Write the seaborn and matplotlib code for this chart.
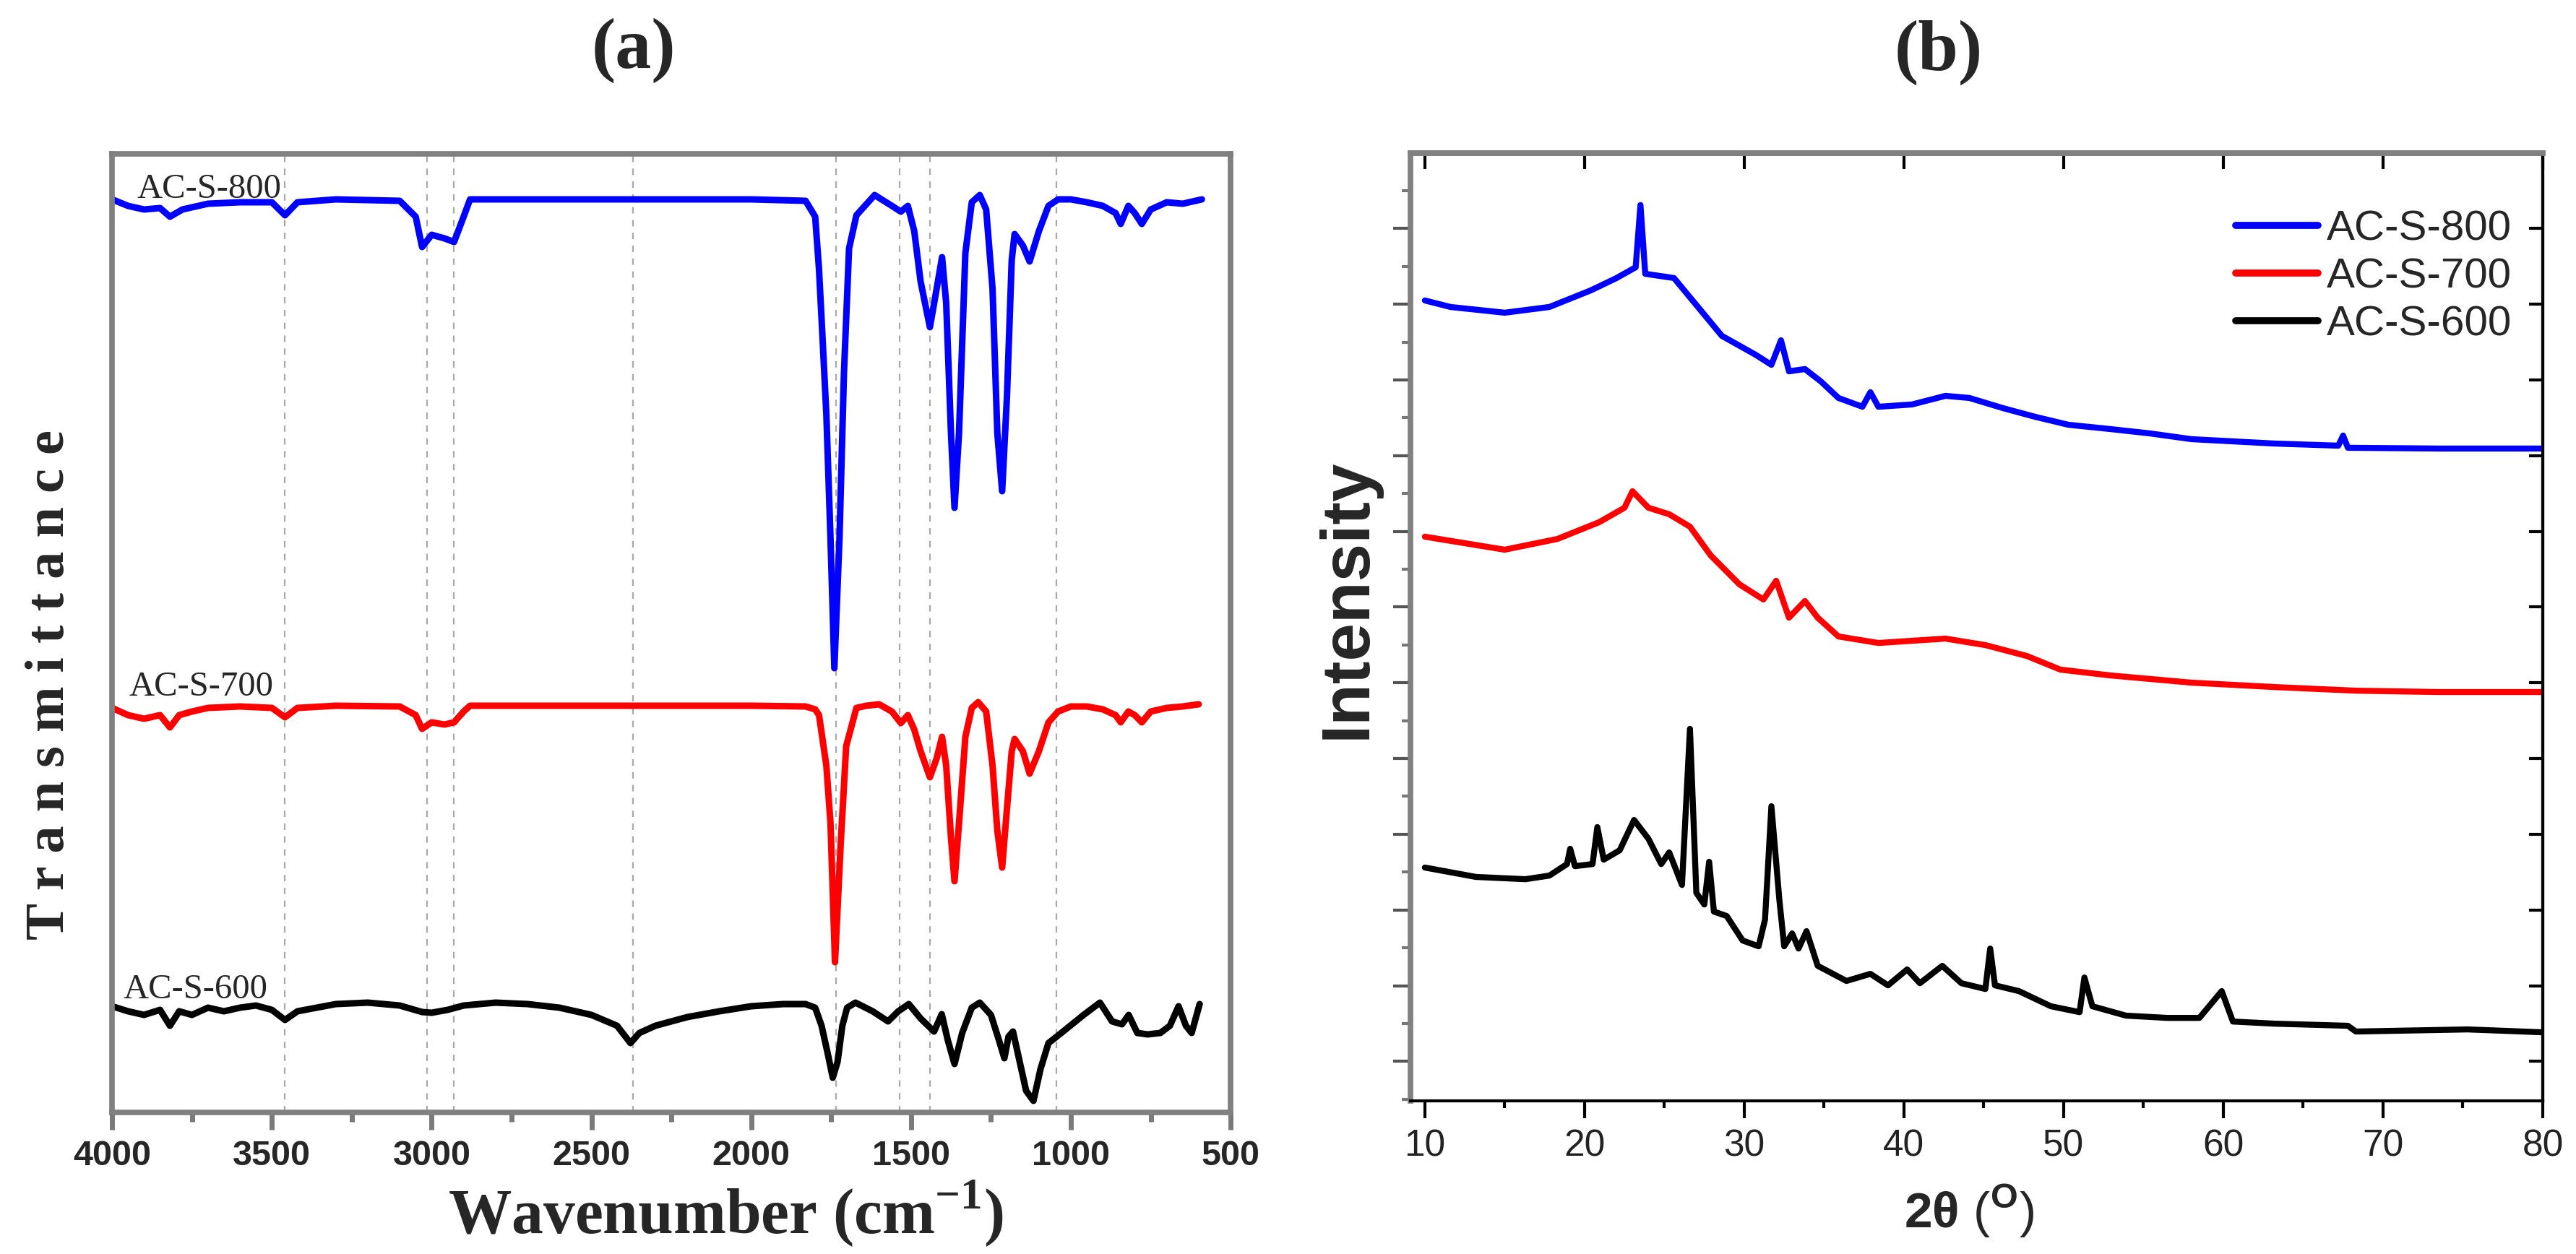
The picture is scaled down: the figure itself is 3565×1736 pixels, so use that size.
import matplotlib
matplotlib.use('Agg')
import matplotlib.pyplot as plt
from matplotlib import font_manager
from matplotlib.ticker import MultipleLocator
import seaborn as sns

# ---------------- (a) FTIR spectra, transmittance in a.u. ----------------
wn_800 = [4000, 3950, 3900, 3850, 3819, 3780, 3700, 3600, 3500, 3459,
          3420, 3300, 3100, 3050, 3030, 3000, 2960, 2930, 2900, 2880,
          2500, 2000, 1830, 1800, 1788, 1778, 1765, 1752, 1740, 1724,
          1710, 1694, 1671, 1614, 1560, 1532, 1510, 1490, 1470, 1441,
          1420, 1403, 1390, 1375, 1364, 1350, 1330, 1310, 1285, 1265,
          1245, 1230, 1215, 1200, 1185, 1176, 1150, 1129, 1100, 1070,
          1040, 1000, 950, 900, 860, 844, 820, 800, 778, 750,
          700, 650, 590]
tr_800 = [1261, 1252, 1247, 1249, 1237, 1247, 1255, 1257, 1257, 1239,
          1257, 1261, 1259, 1237, 1195, 1212, 1207, 1202, 1237, 1261,
          1261, 1261, 1259, 1237, 1164, 1078, 963, 791, 612, 791,
          1020, 1193, 1239, 1267, 1252, 1244, 1252, 1217, 1147, 1084,
          1137, 1181, 1117, 937, 834, 937, 1187, 1257, 1267, 1247,
          1137, 937, 857, 987, 1177, 1213, 1197, 1175, 1217, 1252,
          1261, 1261, 1257, 1252, 1242, 1227, 1252, 1242, 1227, 1247,
          1257, 1255, 1261]

wn_700 = [4000, 3950, 3900, 3850, 3819, 3790, 3750, 3700, 3600, 3500,
          3459, 3420, 3300, 3100, 3050, 3030, 3000, 2960, 2930, 2900,
          2880, 2500, 2000, 1830, 1800, 1788, 1765, 1752, 1738, 1720,
          1703, 1671, 1640, 1600, 1560, 1532, 1510, 1490, 1470, 1441,
          1420, 1403, 1390, 1375, 1364, 1350, 1330, 1310, 1290, 1265,
          1245, 1230, 1215, 1200, 1185, 1176, 1150, 1129, 1100, 1070,
          1040, 1000, 950, 900, 860, 844, 820, 800, 778, 750,
          700, 650, 600]
tr_700 = [557, 547, 542, 547, 530, 547, 552, 557, 559, 557,
          544, 557, 560, 559, 547, 528, 537, 534, 537, 552,
          560, 560, 560, 559, 555, 547, 477, 397, 205, 370,
          504, 557, 560, 562, 552, 536, 547, 527, 497, 461,
          487, 517, 477, 377, 317, 397, 517, 557, 565, 552,
          477, 387, 336, 417, 497, 514, 497, 466, 497, 537,
          552, 559, 559, 555, 547, 537, 552, 547, 537, 552,
          557, 559, 562]

wn_600 = [4000, 3950, 3900, 3850, 3819, 3790, 3750, 3700, 3650, 3600,
          3550, 3500, 3459, 3420, 3300, 3200, 3100, 3030, 3000, 2950,
          2900, 2800, 2700, 2600, 2500, 2420, 2378, 2350, 2300, 2200,
          2100, 2000, 1900, 1830, 1800, 1780, 1760, 1745, 1730, 1715,
          1700, 1674, 1620, 1572, 1540, 1507, 1470, 1428, 1404, 1385,
          1364, 1340, 1310, 1285, 1250, 1225, 1208, 1195, 1181, 1160,
          1140, 1117, 1095, 1070, 1030, 960, 909, 871, 840, 819,
          792, 760, 720, 690, 663, 640, 622, 597]
tr_600 = [144, 137, 132, 139, 117, 137, 132, 142, 137, 142,
          145, 139, 125, 137, 147, 149, 145, 136, 135, 139,
          145, 149, 147, 142, 132, 117, 93, 107, 117, 129,
          137, 144, 147, 147, 142, 117, 77, 45, 67, 117,
          142, 149, 137, 123, 137, 147, 127, 109, 133, 97,
          64, 107, 142, 149, 132, 97, 72, 102, 109, 67,
          27, 13, 57, 93, 107, 132, 149, 123, 119, 132,
          107, 105, 107, 117, 144, 117, 107, 147]

peak_lines = [3460, 3015, 2930, 2370, 1735, 1535, 1440, 1045]
ftir_ticks = [4000, 3500, 3000, 2500, 2000, 1500, 1000, 500]

# ---------------- (b) XRD patterns ----------------
tt_800 = [10, 11.6, 15, 17.8, 20.4, 22, 23.2, 23.5, 23.8, 25.6,
          27.1, 28.6, 30.7, 31.7, 32.3, 32.8, 33.8, 34.8, 35.9, 37.4,
          37.9, 38.4, 40.5, 42.6, 44.1, 46.2, 48.2, 50.3, 52.9, 55.4,
          58, 63.2, 67.2, 67.5, 67.8, 73.5, 80]
int_800 = [5525, 5482, 5444, 5482, 5592, 5673, 5744, 6155, 5701, 5673,
           5482, 5291, 5167, 5100, 5262, 5057, 5072, 4990, 4881, 4823,
           4919, 4823, 4838, 4895, 4881, 4814, 4757, 4704, 4676, 4647,
           4609, 4580, 4566, 4633, 4552, 4547, 4547]

tt_700 = [10, 15, 18.3, 20.9, 22.5, 23, 24, 25.3, 26.6, 27.9,
          29.7, 31.2, 32, 32.8, 33.8, 34.6, 35.9, 38.4, 42.6, 45.1,
          47.7, 49.8, 52.9, 58, 63.2, 68.3, 73.5, 80]
int_700 = [3965, 3879, 3950, 4060, 4156, 4265, 4156, 4113, 4031, 3841,
           3650, 3550, 3674, 3430, 3540, 3430, 3306, 3263, 3292, 3249,
           3177, 3087, 3049, 3001, 2972, 2948, 2939, 2939]

tt_600 = [10, 13.2, 16.3, 17.8, 18.9, 19.1, 19.4, 20.5, 20.8, 21.2,
          22.2, 23.1, 24, 24.8, 25.3, 26.1, 26.6, 27, 27.5, 27.8,
          28.1, 28.9, 29.9, 30.9, 31.3, 31.7, 32.2, 32.5, 33, 33.4,
          33.9, 34.6, 36.4, 37.9, 39, 40.2, 41, 42.4, 43.6, 45.1,
          45.4, 45.7, 47.2, 49.2, 51, 51.3, 51.8, 53.9, 56.5, 58.5,
          59.9, 60.6, 63.2, 67.8, 68.3, 75.3, 80]
int_600 = [1780, 1718, 1703, 1727, 1803, 1904, 1789, 1803, 2047, 1832,
           1894, 2094, 1970, 1803, 1880, 1665, 2696, 1613, 1536, 1818,
           1489, 1460, 1298, 1260, 1436, 2185, 1565, 1260, 1345, 1245,
           1360, 1131, 1031, 1078, 1002, 1107, 1016, 1131, 1016, 978,
           1245, 1002, 964, 864, 825, 1054, 864, 802, 787, 787,
           964, 763, 749, 735, 697, 711, 692]

samples = ['AC-S-800', 'AC-S-700', 'AC-S-600']
colors = ['#0000ff', '#ff0000', '#000000']


def main():
    sns.set_theme(style='white')
    plt.rcParams['font.family'] = ['Liberation Serif', 'DejaVu Serif']
    plt.rcParams['mathtext.fontset'] = 'custom'
    plt.rcParams['mathtext.rm'] = 'Liberation Sans'
    plt.rcParams['mathtext.bf'] = 'Liberation Serif:bold'
    plt.rcParams['mathtext.sf'] = 'Liberation Sans:bold'

    names = {f.name for f in font_manager.fontManager.ttflist}
    narrow = 'Liberation Sans Narrow' if 'Liberation Sans Narrow' in names else 'Liberation Sans'

    fig = plt.figure(figsize=(35.66, 17.36), dpi=100)
    ax1 = fig.add_axes([0.0435, 0.1129, 0.4341, 0.7644])
    ax2 = fig.add_axes([0.5474, 0.1221, 0.4394, 0.7558])

    # ---- panel (a)
    for x in peak_lines:
        ax1.axvline(x, color='#a8a8a8', ls=(0, (4, 4)), lw=1.6, zorder=0)

    ftir = [(wn_800, tr_800), (wn_700, tr_700), (wn_600, tr_600)]
    for (wn, tr), c in zip(ftir, colors):
        sns.lineplot(x=wn, y=tr, ax=ax1, color=c, lw=6.5, estimator=None, sort=False)

    ax1.text(3923, 1275, samples[0], fontsize=35, va='center', ha='left')
    ax1.text(3948, 586, samples[1], fontsize=35, va='center', ha='left')
    ax1.text(3966, 167, samples[2], fontsize=35, va='center', ha='left')

    ax1.set_xlim(4000, 500)
    ax1.set_ylim(-3, 1324)
    ax1.set_yticks([])
    ax1.set_xticks(ftir_ticks)
    ax1.set_xticklabels([str(t) for t in ftir_ticks], fontsize=35,
                        fontweight='bold', fontfamily=narrow)
    ax1.xaxis.set_minor_locator(MultipleLocator(250))
    ax1.tick_params(axis='x', which='major', bottom=True, top=False, direction='out',
                    length=17, width=5, color='#7a7a7a', pad=10)
    ax1.tick_params(axis='x', which='minor', bottom=True, top=False, direction='out',
                    length=9, width=5, color='#7a7a7a')
    for s in ax1.spines.values():
        s.set_color('#808080')
        s.set_linewidth(5.5)

    ax1.set_xlabel(r'Wavenumber (cm$^{\mathbf{-1}}$)', fontsize=63, fontweight='bold')
    ax1.xaxis.set_label_coords(0.549, -0.1266)
    ax1.xaxis.label.set_va('baseline')
    ax1.set_ylabel('T r a n s m i t t a n c e', fontsize=55, fontweight='bold')
    ax1.yaxis.set_label_coords(-0.055, 0.446)
    ax1.yaxis.label.set_va('center')

    # ---- panel (b)
    xrd = [(tt_800, int_800), (tt_700, int_700), (tt_600, int_600)]
    for (tt, inten), c, name in zip(xrd, colors, samples):
        sns.lineplot(x=tt, y=inten, ax=ax2, color=c, lw=6, label=name,
                     estimator=None, sort=False)

    ax2.set_xlim(9.1, 80)
    ax2.set_ylim(239, 6498)
    ax2.xaxis.set_major_locator(MultipleLocator(10))
    ax2.xaxis.set_minor_locator(MultipleLocator(5))
    ax2.yaxis.set_major_locator(MultipleLocator(500))
    ax2.yaxis.set_minor_locator(MultipleLocator(250))
    ax2.tick_params(axis='x', which='major', bottom=True, top=False, direction='out',
                    length=17, width=3, color='black', pad=11, labelsize=37,
                    labelfontfamily=narrow, labelcolor='#222222')
    ax2.tick_params(axis='x', which='minor', bottom=True, top=False, direction='out',
                    length=7, width=3, color='black')
    ax2.tick_params(axis='y', which='major', left=True, right=False, labelleft=False,
                    direction='out', length=17, width=3, color='#555555')
    ax2.tick_params(axis='y', which='minor', left=True, right=False,
                    direction='out', length=9, width=3, color='#777777')
    for side, c, w in [('left', '#808080', 5.5), ('top', '#808080', 5.5),
                       ('bottom', 'black', 3), ('right', 'black', 3)]:
        ax2.spines[side].set_color(c)
        ax2.spines[side].set_linewidth(w)

    top = ax2.secondary_xaxis('top')
    top.set_xticks(list(range(10, 81, 10)))
    top.tick_params(direction='in', length=16, width=3, color='black', labeltop=False)
    top.spines['top'].set_color('#808080')
    top.spines['top'].set_linewidth(5.5)
    right = ax2.secondary_yaxis('right')
    right.set_yticks(list(range(500, 6501, 500)))
    right.tick_params(direction='in', length=14, width=3, color='black', labelright=False)
    right.spines['right'].set_color('black')
    right.spines['right'].set_linewidth(3)

    ax2.set_xlabel(r'2θ $(^{\mathsf{O}})$', fontsize=50, fontweight='bold',
                   fontfamily='Liberation Sans')
    ax2.xaxis.set_label_coords(0.493, -0.134)
    ax2.xaxis.label.set_va('baseline')
    ax2.set_ylabel('Intensity', fontsize=68, fontweight='bold', fontfamily='Liberation Sans')
    ax2.yaxis.set_label_coords(-0.0555, 0.530)
    ax2.yaxis.label.set_va('center')

    leg = ax2.legend(loc='upper left', bbox_to_anchor=(0.729, 0.94), frameon=False,
                     prop={'family': narrow, 'size': 42}, handlelength=1.95,
                     handletextpad=0.2, labelspacing=0.2, borderpad=0, borderaxespad=0)
    for h in leg.get_lines():
        h.set_linewidth(7)

    fig.text(0.2459, 0.960, '(a)', fontsize=72, fontweight='bold', ha='center', va='center')
    fig.text(0.7524, 0.958, '(b)', fontsize=72, fontweight='bold', ha='center', va='center')

    fig.savefig('out.png', dpi=100)


if __name__ == '__main__':
    main()
